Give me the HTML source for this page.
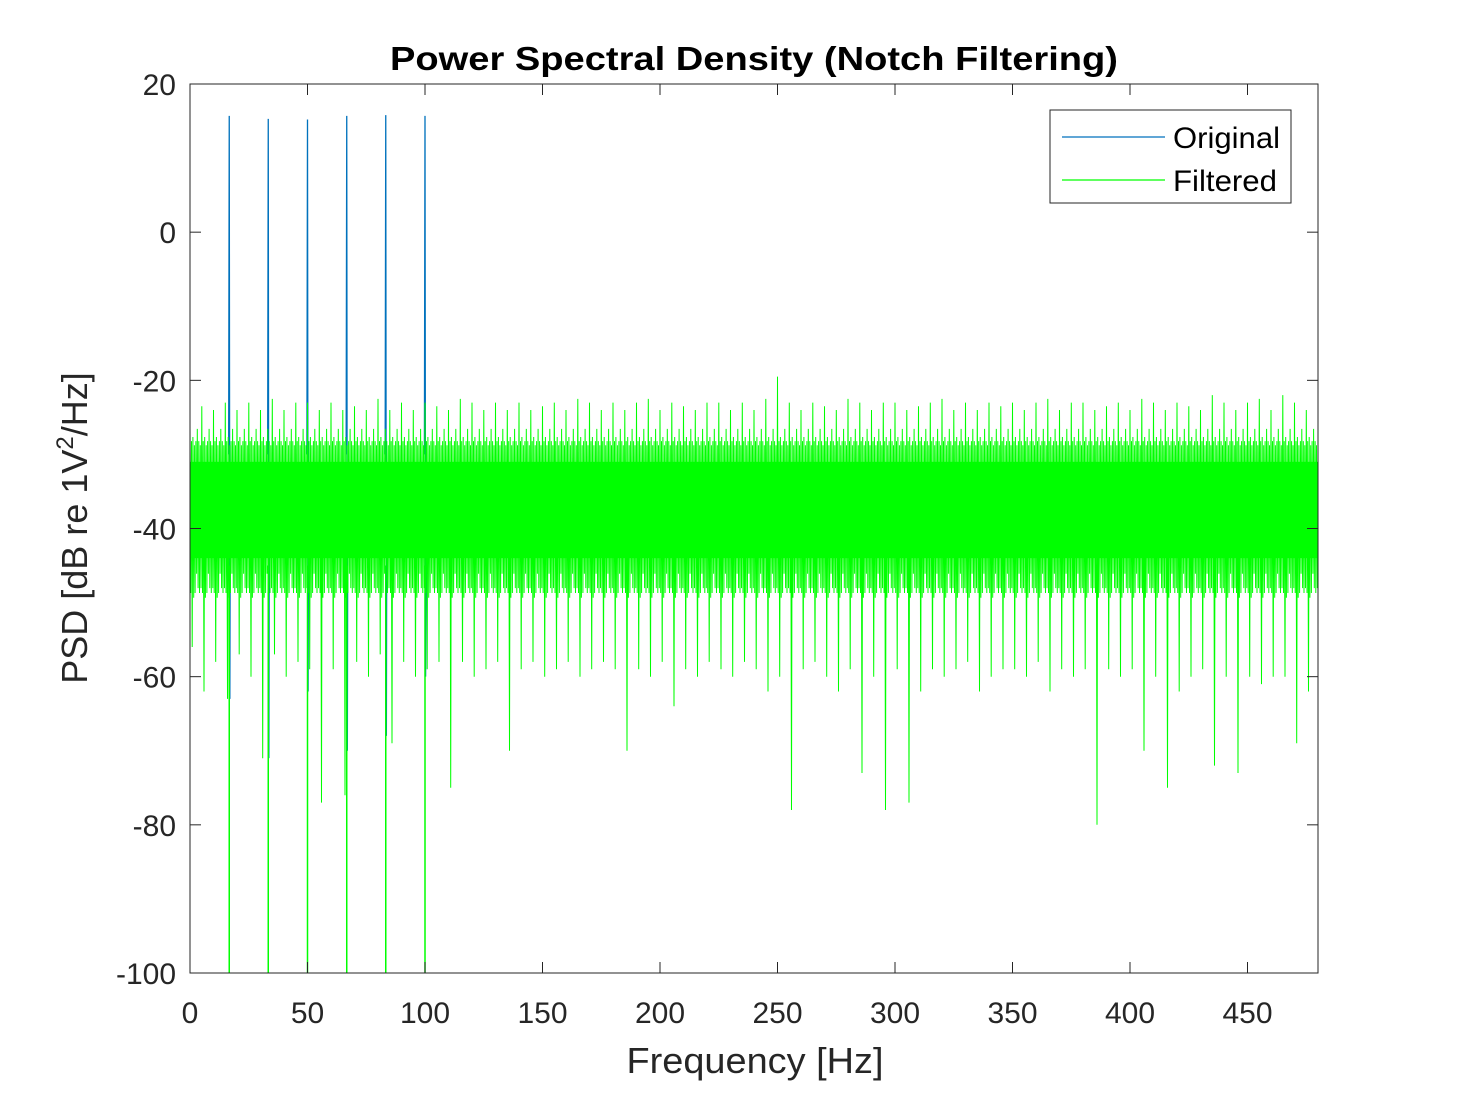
<!DOCTYPE html>
<html><head><meta charset="utf-8"><style>
body{margin:0;background:#fff}
text{font-family:"Liberation Sans",Arial,sans-serif;fill:#262626}
</style></head><body>
<svg id="chart" width="1458" height="1094" xmlns="http://www.w3.org/2000/svg">
<rect width="1458" height="1094" fill="#fff"/>
<g id="plot"></g>
<g id="axes"></g>
<text x="754" y="70" text-anchor="middle" font-size="33" font-weight="bold" style="fill:#000" textLength="728" lengthAdjust="spacingAndGlyphs">Power Spectral Density (Notch Filtering)</text>
<text x="755" y="1073" text-anchor="middle" font-size="36" textLength="257" lengthAdjust="spacingAndGlyphs">Frequency [Hz]</text>
<text transform="translate(87,528) rotate(-90)" text-anchor="middle" font-size="36">PSD [dB re 1V<tspan dy="-14" font-size="24">2</tspan><tspan dy="14">/Hz]</tspan></text>
<g>
<rect x="1050" y="110" width="241" height="93" fill="#fff" stroke="#262626" stroke-width="1"/>
<line x1="1062" y1="137" x2="1165" y2="137" stroke="#0072BD" stroke-width="1.2"/>
<text x="1173" y="148" font-size="30" style="fill:#000" textLength="107" lengthAdjust="spacingAndGlyphs">Original</text>
<line x1="1062" y1="180" x2="1165" y2="180" stroke="#00FF00" stroke-width="1.2"/>
<text x="1173" y="191" font-size="30" style="fill:#000" textLength="104" lengthAdjust="spacingAndGlyphs">Filtered</text>
</g>
</svg>
<script>
const xTicks=[0,50,100,150,200,250,300,350,400,450];
const yTicks=[20,0,-20,-40,-60,-80,-100];
const binWidth=5;
const peakHi=[-26,-23.5,-24,-23,-24,-23,-24,-22.5,-24,-23,-23,-24,-23,-24,-23.5,-24,-22.5,-24,-23,-24,-23,-23.5,-24,-22.5,-23,-24,-23,-24,-23,-24,-23.5,-23,-24,-22.5,-23,-24,-23,-24,-23,-22.5,-24,-23,-23.5,-24,-23,-23,-24,-23,-24,-22.5,-19.5,-23,-24,-23,-23.5,-24,-22.5,-23,-24,-23,-23,-24,-23.5,-23,-22.5,-24,-23,-24,-23,-23.5,-23,-24,-23,-22.5,-24,-23,-23,-24,-23.5,-23,-24,-22.5,-23,-24,-23,-23.5,-24,-22,-23,-24,-23,-22.5,-24,-22,-23,-24];
const peakLo=[-56,-62,-58,-63,-57,-60,-71,-57,-60,-58,-59,-77,-59,-76,-58,-60,-57,-69,-58,-60,-59,-58,-75,-58,-60,-59,-58,-70,-59,-58,-60,-59,-58,-60,-59,-58,-59,-70,-59,-60,-58,-64,-59,-60,-58,-59,-60,-58,-59,-62,-60,-78,-59,-58,-60,-62,-59,-73,-60,-78,-59,-77,-62,-59,-60,-59,-58,-62,-60,-59,-59,-60,-58,-62,-59,-60,-59,-80,-59,-60,-59,-70,-60,-75,-62,-60,-59,-72,-60,-73,-60,-61,-60,-60,-69,-62,-63];
const bandTop=-26, bandBot=-50;
const notchFreqs=[16.7,33.3,50,66.7,83.3,100];
const originalPeaks=[15.7,15.3,15.2,15.7,15.8,15.7];
const originalDips=[-63,-71,-62,-70,-68,-60];
const filteredDips=[-100,-100,-100,-100,-100,-100];

const X0=190,X1=1318,Y0=84,Y1=973;
const xs=v=>X0+(v/480)*(X1-X0);
const ys=v=>Y0+(20-v)*(Y1-Y0)/120;
const NS="http://www.w3.org/2000/svg";
const plot=document.getElementById('plot'),axes=document.getElementById('axes');
function mk(tag,attrs,parent){const e=document.createElementNS(NS,tag);for(const k in attrs)e.setAttribute(k,attrs[k]);parent.appendChild(e);return e;}

notchFreqs.forEach((f,i)=>{
  const l=mk('polyline',{points:`${xs(f)-0.6},${ys(-30)} ${xs(f)},${ys(originalPeaks[i])} ${xs(f)+0.6},${ys(originalDips[i])} ${xs(f)+1},${ys(-40)}`,fill:'none',stroke:'#0072BD','stroke-width':1.3},plot);
  
  
});
let pts=[];
const pattern=[0,1,2,3,2,1,2,1,2,1,2,1,2,1,2,1];
const frac=[1,0.9,0.8,1,0.85,0.95,0.75,0.9,0.8,0.7,0.95,0.85,0.8,0.9,0.75,0.85];
for(let i=0;i<peakHi.length;i++){
  for(let j=0;j<16;j++){
    const f=i*binWidth+j*binWidth/16;
    if(f>480)break;
    const p=pattern[j];
    let v;
    if(p===0) v=peakHi[i];
    else if(p===3) v=peakLo[i];
    else if(p===2) v=-37+(bandTop+37)*frac[j];
    else v=-37+(bandBot+37)*frac[j];
    pts.push(xs(f).toFixed(1)+','+ys(v).toFixed(1));
  }
}
const band=mk('polyline',{points:pts.join(' '),fill:'none',stroke:'#00FF00','stroke-width':1},plot);


const core=mk('rect',{x:X0,y:ys(-31),width:X1-X0,height:ys(-44)-ys(-31),fill:'#00FF00'},plot);


notchFreqs.forEach((f,i)=>{
  const l=mk('line',{x1:xs(f),y1:ys(-45),x2:xs(f),y2:ys(filteredDips[i]),stroke:'#00FF00','stroke-width':1.5},plot);
  
  
});
const box=mk('rect',{x:X0,y:Y0,width:X1-X0,height:Y1-Y0,fill:'none',stroke:'#262626','stroke-width':1},axes);


xTicks.forEach(t=>{
  const x=xs(t);
  mk('line',{x1:x,y1:Y1,x2:x,y2:Y1-11,stroke:'#262626'},axes);
  mk('line',{x1:x,y1:Y0,x2:x,y2:Y0+11,stroke:'#262626'},axes);
  const tx=mk('text',{x:x,y:Y1+50,'text-anchor':'middle','font-size':'30'},axes);
  tx.textContent=t;
  
  
});
yTicks.forEach(t=>{
  const y=ys(t);
  mk('line',{x1:X0,y1:y,x2:X0+11,y2:y,stroke:'#262626'},axes);
  mk('line',{x1:X1,y1:y,x2:X1-11,y2:y,stroke:'#262626'},axes);
  const tx=mk('text',{x:X0-14,y:y+11,'text-anchor':'end','font-size':'30'},axes);
  tx.textContent=t;
  
  
});
</script>
</body></html>
